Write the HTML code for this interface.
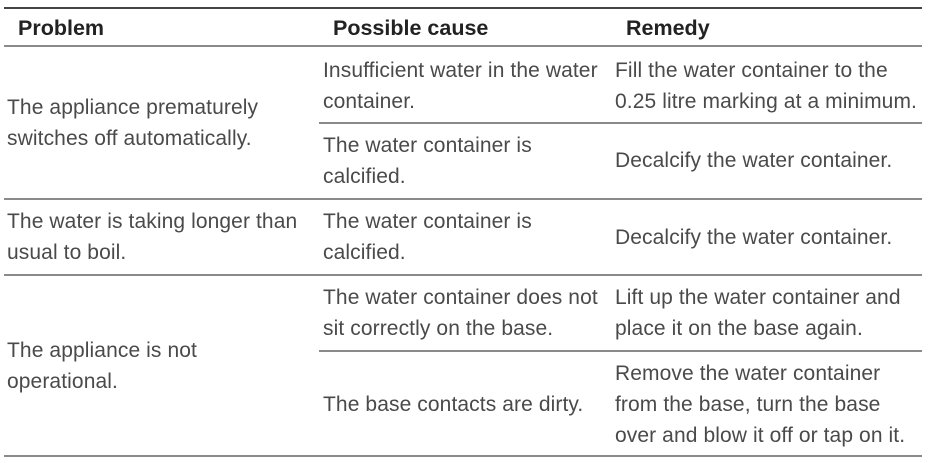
<!DOCTYPE html>
<html><head><meta charset="utf-8"><style>
body{margin:0;width:929px;height:463px;background:#fff;position:relative;overflow:hidden;font-family:"Liberation Sans",sans-serif;}
.t{position:absolute;white-space:nowrap;font-size:21px;color:#4a4a4a;line-height:24px;letter-spacing:0.1px;}
.h{position:absolute;white-space:nowrap;font-size:21.5px;font-weight:bold;color:#222;line-height:24px;}
.l{position:absolute;height:2px;background:#8a8a8a;right:7px;}
</style></head><body>
<div class="l" style="top:7px;left:4px;background:#444;"></div>
<div class="l" style="top:45px;left:4px;"></div>
<div class="l" style="top:122px;left:319px;"></div>
<div class="l" style="top:198px;left:4px;"></div>
<div class="l" style="top:274px;left:4px;"></div>
<div class="l" style="top:350px;left:319px;"></div>
<div class="l" style="top:455px;left:4px;"></div>

<div class="h" style="left:18px;top:16px">Problem</div>
<div class="h" style="left:333px;top:16px">Possible cause</div>
<div class="h" style="left:626px;top:16px">Remedy</div>

<div class="t" style="left:7px;top:96px">The appliance prematurely</div>
<div class="t" style="left:7px;top:127px">switches off automatically.</div>
<div class="t" style="left:323px;top:59px">Insufficient water in the water</div>
<div class="t" style="left:323px;top:90px">container.</div>
<div class="t" style="left:615px;top:59px">Fill the water container to the</div>
<div class="t" style="left:615px;top:90px">0.25 litre marking at a minimum.</div>
<div class="t" style="left:323px;top:134px">The water container is</div>
<div class="t" style="left:323px;top:165px">calcified.</div>
<div class="t" style="left:615px;top:149px">Decalcify the water container.</div>

<div class="t" style="left:7px;top:210px">The water is taking longer than</div>
<div class="t" style="left:7px;top:241px">usual to boil.</div>
<div class="t" style="left:323px;top:210px">The water container is</div>
<div class="t" style="left:323px;top:241px">calcified.</div>
<div class="t" style="left:615px;top:226px">Decalcify the water container.</div>

<div class="t" style="left:7px;top:339px">The appliance is not</div>
<div class="t" style="left:7px;top:370px">operational.</div>
<div class="t" style="left:323px;top:286px">The water container does not</div>
<div class="t" style="left:323px;top:317px">sit correctly on the base.</div>
<div class="t" style="left:615px;top:286px">Lift up the water container and</div>
<div class="t" style="left:615px;top:317px">place it on the base again.</div>
<div class="t" style="left:323px;top:393px">The base contacts are dirty.</div>
<div class="t" style="left:615px;top:362px">Remove the water container</div>
<div class="t" style="left:615px;top:393px">from the base, turn the base</div>
<div class="t" style="left:615px;top:424px">over and blow it off or tap on it.</div>
</body></html>
